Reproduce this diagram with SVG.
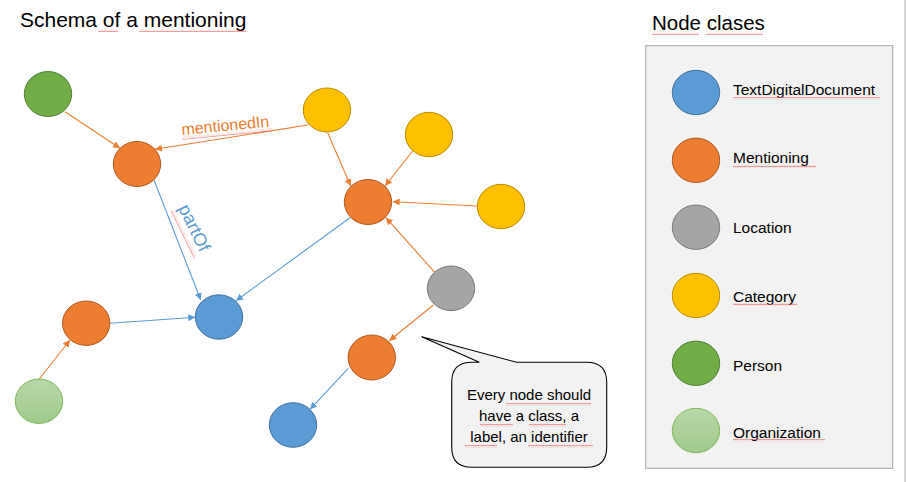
<svg xmlns="http://www.w3.org/2000/svg" width="907" height="482" viewBox="0 0 907 482">
<style>
text{font-family:"Liberation Sans",Arial,sans-serif;fill:#000}
.title{font-size:21px}
.leg{font-size:15.5px}
.e{fill:none;stroke-width:1.1}
.o{stroke:#ed7d31}
.b{stroke:#5b9bd5}
.doc{fill:#5b9bd5;stroke:#41719c}
.men{fill:#ed7d31;stroke:#ae5a21}
.loc{fill:#a5a5a5;stroke:#787878}
.cat{fill:#ffc000;stroke:#bc8c00}
.per{fill:#70ad47;stroke:#507e32}
.org{fill:url(#orgGrad);stroke:#7fb75a}
.wavy{fill:url(#wave)}
</style>
<defs>
<linearGradient id="orgGrad" x1="0" y1="0" x2="0" y2="1">
<stop offset="0" stop-color="#b8d8aa"/>
<stop offset="1" stop-color="#9fc98a"/>
</linearGradient>
<pattern id="wave" width="4" height="3" patternUnits="userSpaceOnUse">
<path d="M0,2.2 L1,0.8 L2,2.2 L3,0.8 L4,2.2" fill="none" stroke="#ef5a5a" stroke-width="0.6"/>
</pattern>
<marker id="ao" viewBox="0 0 10 10" refX="10" refY="5" markerWidth="7" markerHeight="7" markerUnits="userSpaceOnUse" orient="auto">
<path d="M0,0 L10,5 L0,10 z" fill="#ed7d31"/>
</marker>
<marker id="ab" viewBox="0 0 10 10" refX="10" refY="5" markerWidth="7" markerHeight="7" markerUnits="userSpaceOnUse" orient="auto">
<path d="M0,0 L10,5 L0,10 z" fill="#5b9bd5"/>
</marker>
</defs>
<rect width="907" height="482" fill="#fff"/>
<rect x="904" y="0" width="2" height="482" fill="#d6d6d6"/>

<text class="title" x="20" y="27">Schema of a mentioning</text>
<rect class="wavy" x="98" y="29" width="20" height="3"/>
<rect class="wavy" x="139" y="29" width="107" height="3"/>

<g id="connectors">
<line class="e o" x1="65" y1="111.7" x2="120" y2="148.3" marker-end="url(#ao)"/>
<line class="e o" x1="308" y1="125" x2="155" y2="149.3" marker-end="url(#ao)"/>
<line class="e b" x1="154" y1="180" x2="200.7" y2="300" marker-end="url(#ab)"/>
<line class="e o" x1="327.7" y1="132.7" x2="350.7" y2="186" marker-end="url(#ao)"/>
<line class="e o" x1="412.7" y1="151" x2="385" y2="186" marker-end="url(#ao)"/>
<line class="e o" x1="477.3" y1="206" x2="392.7" y2="201.7" marker-end="url(#ao)"/>
<line class="e o" x1="435" y1="272.7" x2="386" y2="217.7" marker-end="url(#ao)"/>
<line class="e b" x1="350" y1="217.7" x2="236" y2="300.7" marker-end="url(#ab)"/>
<line class="e b" x1="110" y1="323.3" x2="195.3" y2="317.3" marker-end="url(#ab)"/>
<line class="e o" x1="39.3" y1="379" x2="70" y2="340" marker-end="url(#ao)"/>
<line class="e o" x1="433.3" y1="305" x2="389.3" y2="340.7" marker-end="url(#ao)"/>
<line class="e b" x1="348.3" y1="368.3" x2="310" y2="409.3" marker-end="url(#ab)"/>
<g transform="translate(182,135) rotate(-5.5)">
<text x="0" y="0" style="font-size:16px;fill:#ed7d31">mentionedIn</text>
<rect class="wavy" x="0" y="2" width="90" height="3"/>
</g>
<g transform="translate(178,208) rotate(64)">
<text x="0" y="0" style="font-size:18px;fill:#5b9bd5">partOf</text>
<rect class="wavy" x="0" y="5" width="52" height="3"/>
</g>
</g>

<g id="person1"><ellipse class="per" cx="48" cy="94" rx="23.7" ry="22.5"/></g>
<g id="mentioning1"><ellipse class="men" cx="137" cy="164" rx="23.7" ry="22.5"/></g>
<g id="category1"><ellipse class="cat" cx="327" cy="110" rx="23.7" ry="22"/></g>
<g id="category2"><ellipse class="cat" cx="429" cy="134.5" rx="23.7" ry="22.2"/></g>
<g id="category3"><ellipse class="cat" cx="501" cy="206.5" rx="23.7" ry="22.2"/></g>
<g id="mentioning2"><ellipse class="men" cx="368" cy="202" rx="23.7" ry="22.5"/></g>
<g id="document1"><ellipse class="doc" cx="219" cy="317" rx="23.7" ry="22.2"/></g>
<g id="location1"><ellipse class="loc" cx="451" cy="288.3" rx="23.7" ry="22.3"/></g>
<g id="mentioning3"><ellipse class="men" cx="86.2" cy="323.2" rx="23.7" ry="22.2"/></g>
<g id="organization1"><ellipse class="org" cx="39" cy="401.2" rx="23.7" ry="22.2"/></g>
<g id="mentioning4"><ellipse class="men" cx="371.8" cy="357.5" rx="23.7" ry="22.5"/></g>
<g id="document2"><ellipse class="doc" cx="293" cy="425" rx="23.7" ry="22.3"/></g>

<g id="callout">
<path d="M471.7,362.3 L479.3,362.3 L421.7,336.7 L516.7,362.3 L586.7,362.3 Q606.7,362.3 606.7,382.3 L606.7,447.3 Q606.7,467.3 586.7,467.3 L471.7,467.3 Q451.7,467.3 451.7,447.3 L451.7,382.3 Q451.7,362.3 471.7,362.3 Z" fill="#f2f2f2" stroke="#000" stroke-width="1.1"/>
<text x="529" y="400" text-anchor="middle" style="font-size:15px">Every node should</text>
<text x="529" y="421" text-anchor="middle" style="font-size:15px">have a class, a</text>
<text x="529" y="442" text-anchor="middle" style="font-size:15px">label, an identifier</text>
<rect class="wavy" x="506" y="403" width="85" height="3"/>
<rect class="wavy" x="480" y="424" width="33" height="3"/>
<rect class="wavy" x="529" y="424" width="37" height="3"/>
<rect class="wavy" x="465" y="445" width="32" height="3"/>
<rect class="wavy" x="528" y="445" width="65" height="3"/>
</g>

<g id="legend">
<text x="652" y="30" style="font-size:20.5px">Node clases</text>
<rect class="wavy" x="652" y="32" width="47" height="3"/>
<rect class="wavy" x="706" y="32" width="57" height="3"/>
<rect x="645.7" y="45.7" width="247" height="422.6" fill="#f2f2f2" stroke="#a6a6a6" stroke-width="1"/>
<g id="leg-doc"><ellipse class="doc" cx="696" cy="92.5" rx="23.7" ry="22.2"/><text class="leg" x="733" y="95">TextDigitalDocument</text><rect class="wavy" x="733" y="97" width="147" height="3"/></g>
<g id="leg-men"><ellipse class="men" cx="696" cy="160.3" rx="23.7" ry="22.2"/><text class="leg" x="733" y="163">Mentioning</text><rect class="wavy" x="733" y="165" width="83" height="3"/></g>
<g id="leg-loc"><ellipse class="loc" cx="696" cy="227.2" rx="23.7" ry="22.2"/><text class="leg" x="733" y="233">Location</text></g>
<g id="leg-cat"><ellipse class="cat" cx="696" cy="295.5" rx="23.7" ry="22.2"/><text class="leg" x="733" y="302">Category</text><rect class="wavy" x="733" y="303" width="64" height="3"/></g>
<g id="leg-per"><ellipse class="per" cx="696" cy="363.3" rx="23.7" ry="22.2"/><text class="leg" x="733" y="370.5">Person</text></g>
<g id="leg-org"><ellipse class="org" cx="696" cy="430.5" rx="23.7" ry="22.2"/><text class="leg" x="733" y="437.5">Organization</text><rect class="wavy" x="733" y="439" width="92" height="3"/></g>
</g>
</svg>
